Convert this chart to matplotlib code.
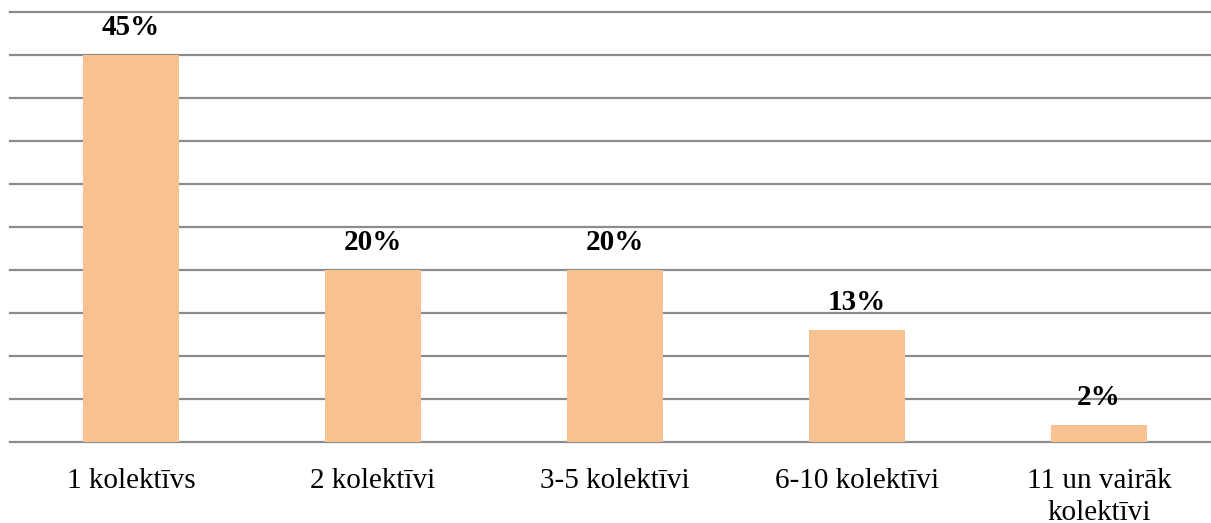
import matplotlib
matplotlib.use('Agg')
import matplotlib.pyplot as plt

# Data
categories = ['1 kolektīvs', '2 kolektīvi', '3-5 kolektīvi', '6-10 kolektīvi',
              '11 un vairāk\nkolektīvi']
values = [45, 20, 20, 13, 2]
value_labels = ['45%', '20%', '20%', '13%', '2%']

bar_color = '#F8C290'
grid_color = '#8C8C8C'

plt.rcParams['font.family'] = ['Liberation Serif', 'DejaVu Serif']

fig = plt.figure(figsize=(12.11, 5.23), dpi=100)
ax = fig.add_axes([10 / 1211, 1 - 442 / 523, 1201 / 1211, 430 / 523])

x = range(len(categories))
bars = ax.bar(x, values, width=0.4, color=bar_color, zorder=3)

ax.set_ylim(0, 50)
ax.set_xlim(-0.5, -0.5 + 1201 / 242)
ax.set_yticks(range(0, 51, 5))
ax.yaxis.grid(True, color=grid_color, linewidth=1.6, zorder=0)
for gl in ax.get_ygridlines():
    gl.set_clip_on(False)
ax.tick_params(axis='y', left=False, labelleft=False)
ax.tick_params(axis='x', length=0, pad=19, labelsize=21)
ax.set_xticks(list(x))
ax.set_xticklabels(categories, linespacing=1.3)
for side in ['top', 'right', 'left', 'bottom']:
    ax.spines[side].set_visible(False)

for b, lab in zip(bars, value_labels):
    ax.annotate(lab, (b.get_x() + b.get_width() / 2, b.get_height()),
                xytext=(0, 10), textcoords='offset points',
                ha='center', va='bottom', fontsize=21, fontweight='bold')

fig.savefig('out.png', dpi=100)
